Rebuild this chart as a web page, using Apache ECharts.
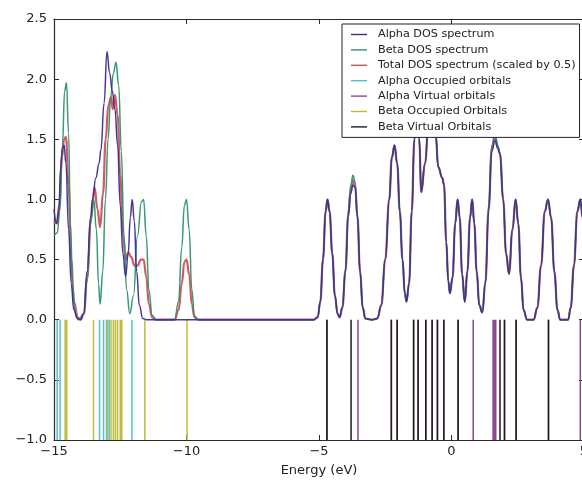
<!DOCTYPE html>
<html>
<head>
<meta charset="utf-8">
<script src="https://cdn.jsdelivr.net/npm/echarts@6/dist/echarts.min.js"></script>
<style>html,body{margin:0;padding:0;background:#fff;}#c{width:582px;height:487px;}</style>
</head>
<body>
<div id="c"></div>
<script>
// ---- data ----
const xTicks = [-15, -10, -5, 0, 5];
const yTicks = [-1.0, -0.5, 0.0, 0.5, 1.0, 1.5, 2.0, 2.5];

const alphaDOS = [
  [-15.0,0.92],[-14.9,0.8],[-14.82,0.9],[-14.75,1.25],[-14.69,1.42],[-14.62,1.45],[-14.55,1.3],[-14.45,0.75],[-14.35,0.3],[-14.25,0.08],[-14.12,0.01],[-14.0,0.0],
  [-13.88,0.05],[-13.75,0.4],[-13.62,0.85],[-13.55,1.0],[-13.42,1.18],[-13.3,1.3],[-13.23,1.41],[-13.11,1.8],[-13.0,2.23],[-12.9,2.05],[-12.8,1.9],[-12.7,1.75],
  [-12.6,1.45],[-12.5,0.95],[-12.4,0.55],[-12.3,0.36],[-12.2,0.55],[-12.12,0.85],[-12.05,1.0],[-11.97,0.82],[-11.88,0.4],[-11.78,0.12],[-11.65,0.01],[-11.5,0.0],
  [-5.2,0.0],[-5.05,0.02],[-4.95,0.15],[-4.85,0.5],[-4.75,0.9],[-4.68,1.0],[-4.6,0.9],[-4.5,0.55],[-4.4,0.2],[-4.3,0.05],[-4.22,0.02],[-4.12,0.1],[-4.0,0.4],[-3.9,0.85],
  [-3.8,1.05],[-3.72,1.12],[-3.64,1.1],[-3.55,0.85],[-3.45,0.4],[-3.35,0.1],[-3.25,0.01],[-3.0,0.0],[-2.8,0.01],[-2.65,0.12],[-2.5,0.5],[-2.35,1.0],[-2.25,1.35],
  [-2.15,1.45],[-2.05,1.3],[-1.95,0.9],[-1.85,0.5],[-1.76,0.22],[-1.7,0.15],[-1.6,0.3],[-1.5,0.9],[-1.4,1.5],[-1.3,1.85],[-1.22,1.5],[-1.14,1.06],[-1.0,1.3],
  [-0.85,1.7],[-0.7,1.95],[-0.6,1.55],[-0.5,1.27],[-0.35,1.18],[-0.28,1.12],[-0.2,0.65],[-0.12,0.32],[-0.06,0.22],[0.04,0.35],[0.14,0.8],[0.23,1.0],[0.31,0.85],
  [0.4,0.38],[0.5,0.15],[0.6,0.4],[0.7,0.85],[0.78,1.0],[0.86,0.8],[0.95,0.4],[1.05,0.12],[1.16,0.06],[1.28,0.3],[1.4,0.9],[1.52,1.4],[1.64,1.49],[1.75,1.42],
  [1.83,1.38],[1.95,1.0],[2.06,0.55],[2.17,0.38],[2.3,0.75],[2.42,1.0],[2.52,0.8],[2.62,0.35],[2.72,0.08],[2.85,0.0],[3.1,0.0],[3.24,0.1],[3.38,0.45],[3.52,0.9],
  [3.64,1.0],[3.76,0.85],[3.88,0.4],[4.0,0.08],[4.1,0.0],[4.4,0.0],[4.5,0.1],[4.62,0.45],[4.75,0.9],[4.86,1.0],[4.95,0.85],[5.0,0.7]
];
const betaDOS = [
  [-15.0,0.7],[-14.88,0.72],[-14.78,0.9],[-14.68,1.45],[-14.6,1.9],[-14.53,1.97],[-14.45,1.55],[-14.38,0.8],[-14.3,0.3],[-14.2,0.06],[-14.08,0.0],
  [-13.88,0.05],[-13.75,0.32],[-13.62,0.8],[-13.5,1.0],[-13.4,0.75],[-13.32,0.3],[-13.26,0.13],[-13.16,0.4],[-13.06,1.0],[-12.96,1.5],[-12.86,1.85],[-12.76,2.05],
  [-12.66,2.14],[-12.56,1.95],[-12.46,1.4],[-12.36,0.7],[-12.26,0.25],[-12.14,0.05],[-12.0,0.2],[-11.85,0.7],[-11.7,0.98],[-11.62,1.0],[-11.52,0.7],[-11.42,0.25],
  [-11.3,0.04],[-11.15,0.0],[-10.45,0.0],[-10.3,0.15],[-10.18,0.6],[-10.08,0.95],[-10.0,1.0],[-9.9,0.75],[-9.8,0.25],[-9.7,0.03],[-9.55,0.0],
  [-5.2,0.0],[-5.05,0.02],[-4.95,0.15],[-4.85,0.5],[-4.75,0.9],[-4.68,1.0],[-4.6,0.9],[-4.5,0.55],[-4.4,0.2],[-4.3,0.05],[-4.22,0.02],[-4.12,0.1],[-4.0,0.42],[-3.9,0.9],
  [-3.8,1.12],[-3.72,1.2],[-3.64,1.15],[-3.55,0.88],[-3.45,0.4],[-3.35,0.1],[-3.25,0.01],[-3.0,0.0],[-2.8,0.01],[-2.65,0.12],[-2.5,0.5],[-2.35,1.0],[-2.25,1.35],
  [-2.15,1.45],[-2.05,1.3],[-1.95,0.9],[-1.85,0.5],[-1.76,0.22],[-1.7,0.15],[-1.6,0.3],[-1.5,0.9],[-1.4,1.5],[-1.3,1.85],[-1.22,1.5],[-1.14,1.06],[-1.0,1.3],
  [-0.85,1.7],[-0.7,1.95],[-0.6,1.55],[-0.5,1.27],[-0.35,1.18],[-0.28,1.12],[-0.2,0.65],[-0.12,0.32],[-0.06,0.22],[0.04,0.35],[0.14,0.8],[0.23,1.0],[0.31,0.85],
  [0.4,0.38],[0.5,0.15],[0.6,0.4],[0.7,0.85],[0.78,1.0],[0.86,0.8],[0.95,0.4],[1.05,0.12],[1.16,0.06],[1.28,0.32],[1.4,0.95],[1.52,1.45],[1.64,1.55],[1.75,1.45],
  [1.83,1.38],[1.95,1.0],[2.06,0.55],[2.17,0.38],[2.3,0.75],[2.42,1.0],[2.52,0.8],[2.62,0.35],[2.72,0.08],[2.85,0.0],[3.1,0.0],[3.24,0.1],[3.38,0.45],[3.52,0.9],
  [3.64,1.0],[3.76,0.85],[3.88,0.4],[4.0,0.08],[4.1,0.0],[4.4,0.0],[4.5,0.1],[4.62,0.45],[4.75,0.9],[4.86,1.0],[4.95,0.85],[5.0,0.7]
];
const totalDOS = [
  [-15.0,0.82],[-14.9,0.8],[-14.8,0.95],[-14.7,1.35],[-14.62,1.5],[-14.55,1.52],[-14.45,1.12],[-14.35,0.5],[-14.25,0.15],[-14.1,0.02],[-14.0,0.0],
  [-13.87,0.05],[-13.75,0.35],[-13.6,0.85],[-13.47,1.1],[-13.36,0.92],[-13.26,0.77],[-13.15,1.05],[-13.05,1.5],[-12.95,1.78],[-12.85,1.85],[-12.78,1.75],
  [-12.7,1.87],[-12.6,1.7],[-12.5,1.2],[-12.4,0.72],[-12.3,0.5],[-12.2,0.56],[-12.08,0.52],[-11.97,0.45],[-11.85,0.45],[-11.72,0.5],[-11.62,0.5],[-11.52,0.36],
  [-11.42,0.13],[-11.3,0.02],[-11.15,0.0],[-10.45,0.0],[-10.3,0.08],[-10.18,0.3],[-10.08,0.48],[-10.0,0.5],[-9.9,0.38],[-9.8,0.13],[-9.7,0.02],[-9.55,0.0],
  [-5.2,0.0],[-5.05,0.02],[-4.95,0.15],[-4.85,0.5],[-4.75,0.9],[-4.68,1.0],[-4.6,0.9],[-4.5,0.55],[-4.4,0.2],[-4.3,0.05],[-4.22,0.02],[-4.12,0.1],[-4.0,0.41],[-3.9,0.87],
  [-3.8,1.08],[-3.72,1.16],[-3.64,1.12],[-3.55,0.86],[-3.45,0.4],[-3.35,0.1],[-3.25,0.01],[-3.0,0.0],[-2.8,0.01],[-2.65,0.12],[-2.5,0.5],[-2.35,1.0],[-2.25,1.35],
  [-2.15,1.45],[-2.05,1.3],[-1.95,0.9],[-1.85,0.5],[-1.76,0.22],[-1.7,0.15],[-1.6,0.3],[-1.5,0.9],[-1.4,1.5],[-1.3,1.85],[-1.22,1.5],[-1.14,1.06],[-1.0,1.3],
  [-0.85,1.7],[-0.7,1.95],[-0.6,1.55],[-0.5,1.27],[-0.35,1.18],[-0.28,1.12],[-0.2,0.65],[-0.12,0.32],[-0.06,0.22],[0.04,0.35],[0.14,0.8],[0.23,1.0],[0.31,0.85],
  [0.4,0.38],[0.5,0.15],[0.6,0.4],[0.7,0.85],[0.78,1.0],[0.86,0.8],[0.95,0.4],[1.05,0.12],[1.16,0.06],[1.28,0.31],[1.4,0.92],[1.52,1.42],[1.64,1.52],[1.75,1.43],
  [1.83,1.38],[1.95,1.0],[2.06,0.55],[2.17,0.38],[2.3,0.75],[2.42,1.0],[2.52,0.8],[2.62,0.35],[2.72,0.08],[2.85,0.0],[3.1,0.0],[3.24,0.1],[3.38,0.45],[3.52,0.9],
  [3.64,1.0],[3.76,0.85],[3.88,0.4],[4.0,0.08],[4.1,0.0],[4.4,0.0],[4.5,0.1],[4.62,0.45],[4.75,0.9],[4.86,1.0],[4.95,0.85],[5.0,0.7]
];

const alphaOccupied = [-14.88, -14.77, -13.28, -13.13, -13.02, -12.92, -12.06];
const alphaVirtual  = [-4.70, -3.53, -2.27, -2.05, -1.43, -1.26, -0.97, -0.73, -0.53, -0.29, 0.25, 0.82, 1.57, 1.62, 1.67, 2.00, 2.44, 3.66, 4.86];
const betaOccupied  = [-14.58, -14.52, -13.51, -12.98, -12.85, -12.76, -12.68, -12.60, -12.50, -12.44, -11.57, -9.98];
const betaVirtual   = [-4.70, -3.79, -2.27, -2.05, -1.43, -1.26, -0.97, -0.73, -0.53, -0.29, 0.25, 1.83, 2.00, 2.44, 3.66];
const stickTop = 0.0, stickBottom = -1.0;

const names = ['Alpha DOS spectrum','Beta DOS spectrum','Total DOS spectrum (scaled by 0.5)',
  'Alpha Occupied orbitals','Alpha Virtual orbitals','Beta Occupied Orbitals','Beta Virtual Orbitals'];
const colors = ['#3a2f95','#2f9468','#d0505f','#52bfd6','#8a4a8c','#bdbb3c','#1c1c1c'];

// ---- build ----
function sticks(list){
  const out = [];
  list.forEach(e => { out.push([e, stickTop]); out.push([e, stickBottom]); out.push([e, '-']); });
  return out;
}
const minus = s => String(s).replace('-', '\u2212');

function curve(i, data, width, z){
  return { name: names[i], type:'line', data, smooth:0.45, smoothMonotone:'x', symbol:'none', showSymbol:false,
    lineStyle:{ color: colors[i], width, opacity:0.95 }, itemStyle:{color: colors[i]}, z, silent:true, animation:false };
}
function stickSeries(i, list){
  return { name: names[i], type:'line', data: sticks(list), connectNulls:false, symbol:'none', showSymbol:false,
    lineStyle:{ color: colors[i], width:1.5 }, itemStyle:{color: colors[i]}, z: 2, silent:true, animation:false };
}

const chart = echarts.init(document.getElementById('c'), null, {renderer:'canvas'});
const font = 'DejaVu Sans';
const axisLine = { show:true, onZero:false, lineStyle:{ color:'#2a2a2a', width:1.2 } };
chart.setOption({
  animation:false,
  backgroundColor:'#fff',
  grid:{ left:54, right:-2, top:19, bottom:47, containLabel:false, outerBoundsMode:'none' },
  legend:{
    orient:'vertical', left:342, top:24,
    backgroundColor:'#fff', borderColor:'#222', borderWidth:1, borderRadius:0,
    padding:[5,4,5,9], itemWidth:16, itemHeight:10, itemGap:4.4,
    textStyle:{ fontFamily:font, fontSize:11.2, lineHeight:11, color:'#222', padding:[0,0,0,6] },
    data: names.map((n,i)=>({ name:n, icon:'path://M0,4.3 L16,4.3 L16,5.7 L0,5.7 Z', itemStyle:{color:colors[i]} })),
    selectedMode:false, z:10
  },
  xAxis:[
    { type:'value', min:-15, max:5, interval:5, position:'bottom', axisLine,
      axisTick:{ show:true, inside:true, length:5, lineStyle:{color:'#2a2a2a'} },
      axisLabel:{ margin:5, color:'#222', fontFamily:font, fontSize:13, formatter: v => minus(v) },
      splitLine:{show:false},
      name:'Energy (eV)', nameLocation:'middle', nameGap:24,
      nameTextStyle:{ fontFamily:font, fontSize:13, color:'#222' } },
    { type:'value', min:-15, max:5, interval:5, position:'top', axisLine,
      axisTick:{ show:true, inside:true, length:5, lineStyle:{color:'#2a2a2a'} },
      axisLabel:{show:false}, splitLine:{show:false} }
  ],
  yAxis:[
    { type:'value', min:-1, max:2.5, interval:0.5, position:'left', axisLine,
      axisTick:{ show:true, inside:true, length:5, lineStyle:{color:'#2a2a2a'} },
      axisLabel:{ margin:7, color:'#222', fontFamily:font, fontSize:13, formatter: v => minus(v.toFixed(1)) },
      splitLine:{show:false} },
    { type:'value', min:-1, max:2.5, interval:0.5, position:'right', axisLine,
      axisTick:{ show:true, inside:true, length:5, lineStyle:{color:'#2a2a2a'} },
      axisLabel:{show:false}, splitLine:{show:false} }
  ],
  series:[
    curve(0, alphaDOS, 1.5, 6),
    curve(1, betaDOS, 1.5, 5),
    curve(2, totalDOS, 2.2, 4),
    stickSeries(3, alphaOccupied),
    stickSeries(4, alphaVirtual),
    stickSeries(5, betaOccupied),
    stickSeries(6, betaVirtual)
  ]
});
</script>
</body>
</html>
